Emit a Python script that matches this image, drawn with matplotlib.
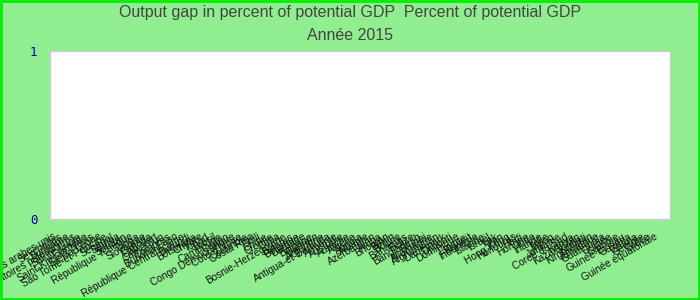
import matplotlib
matplotlib.use("Agg")
import matplotlib.pyplot as plt
from matplotlib.patches import Rectangle

title_main = "Output gap in percent of potential GDP  Percent of potential GDP"
title_year = "Année 2015"

countries = [
    "Émirats arabes unis", "Seychelles", "Suriname", "Territoires palestiniens", "Sainte-Lucie",
    "Grenade", "Saint-Kitts-et-Nevis", "Sierra Leone", "Sao Tomé-et-Principe", "Sénégal",
    "Samoa", "Soudan", "République Tchèque", "Tonga", "Slovaquie",
    "Canada", "Cap-Vert", "Cameroun", "Comores", "Burkina Faso",
    "République Centrafricaine", "Burundi", "Botswana", "Chypre", "Tchad",
    "Brésil", "Cambodge", "Congo", "Congo Démocratique", "Côte d'Ivoire",
    "Colombie", "Costa Rica", "Chili", "Chine", "Croatie",
    "Cuba", "Bosnie-Herzégovine", "Bélarus", "Belgique", "Barbade",
    "Bulgarie", "Bahreïn", "Argentine", "Antigua-et-Barbuda", "Arménie",
    "Australie", "Autriche", "Algérie", "Angola", "Albanie",
    "Azerbaïdjan", "Aruba", "Bhoutan", "Bénin", "Bolivie",
    "Bahamas", "Belize", "Bangladesh", "Brunei", "Allemagne",
    "Afghanistan", "Danemark", "Djibouti", "Dominique", "Égypte",
    "Koweït", "Indonésie", "Islande", "Israël", "Irak",
    "Iran", "Hong Kong", "Honduras", "Haïti", "Hongrie",
    "Inde", "Irlande", "Italie", "Japon", "Jordanie",
    "Corée du Sud", "Kenya", "Kazakhstan", "Kiribati", "Kirghizistan",
    "Jamaïque", "Guatemala", "Guinée", "Gambie", "Guinée-Bissau",
    "Guyana", "Ghana", "Géorgie", "Grèce", "Guinée équatoriale",
]

# no output gap values are drawn for 2015 in the source chart
gap_2015 = [
    0, 0, 0, 0, 0, 0, 0, 0, 0, 0, 0, 0, 0, 0, 0, 0, 0, 0, 0, 0,
    0, 0, 0, 0, 0, 0, 0, 0, 0, 0, 0, 0, 0, 0, 0, 0, 0, 0, 0, 0,
    0, 0, 0, 0, 0, 0, 0, 0, 0, 0, 0, 0, 0, 0, 0, 0, 0, 0, 0, 0,
    0, 0, 0, 0, 0, 0, 0, 0, 0, 0, 0, 0, 0, 0, 0, 0, 0, 0, 0, 0,
    0, 0, 0, 0, 0, 0, 0, 0, 0, 0, 0, 0, 0, 0, 0,
]

y_ticks = [0, 1]

bg = "#90ee90"
fig = plt.figure(figsize=(7, 3), dpi=100, facecolor=bg)
ax = fig.add_axes([50 / 700, 1 - 219 / 300, 620 / 700, 168 / 300])
ax.set_facecolor("white")

x = list(range(len(countries)))
ax.bar(x, gap_2015, width=0.7, color="#4f81bd")

ax.set_xlim(-0.5, len(countries) + 1.5)
ax.set_ylim(0, 1)
ax.set_yticks(y_ticks)
ax.set_yticklabels([str(t) for t in y_ticks], family="DejaVu Sans Mono",
                   fontsize=9, color="#0000aa")
ax.set_xticks(x)
ax.set_xticklabels(countries, rotation=30, ha="right", rotation_mode="anchor",
                   fontsize=7.3, family="Liberation Sans", color="#111111")
ax.tick_params(axis="both", length=0)
ax.tick_params(axis="x", pad=9)
ax.tick_params(axis="y", pad=9)

for s in ax.spines.values():
    s.set_color("#cccccc")
    s.set_linewidth(1)

fig.text(0.5, 1 - 13 / 300, title_main, ha="center", va="center",
         fontsize=11.5, family="Liberation Sans", color="#444444")
fig.text(0.5, 1 - 35 / 300, title_year, ha="center", va="center",
         fontsize=11.5, family="Liberation Sans", color="#444444")

fig.patches.append(Rectangle((0.001, 0.002), 0.997, 0.995, transform=fig.transFigure,
                             fill=False, edgecolor="#00ee00", linewidth=2))

fig.savefig("out.png", dpi=100, facecolor=bg)
